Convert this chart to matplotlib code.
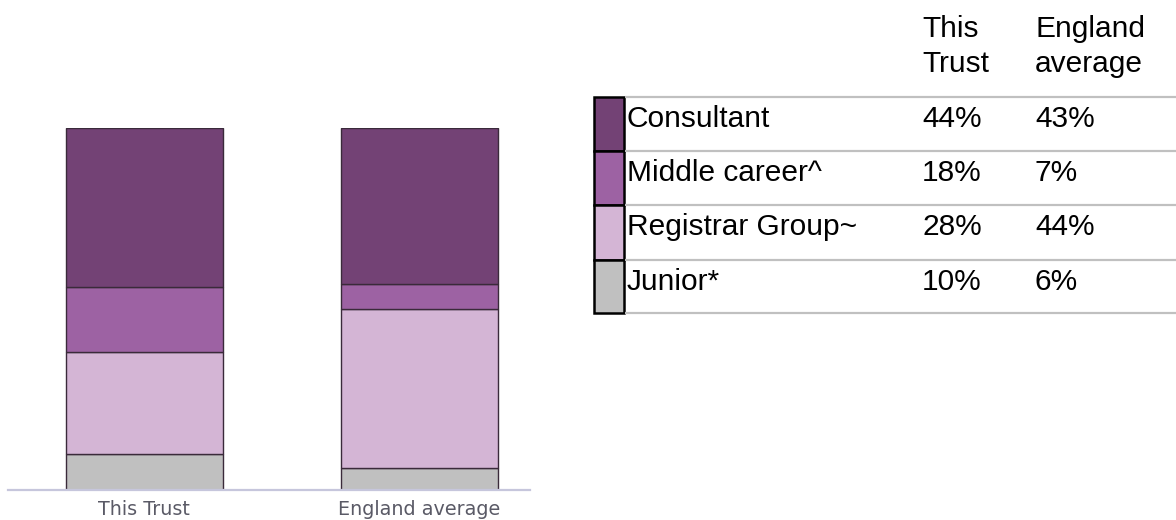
import matplotlib.pyplot as plt
from matplotlib.patches import Rectangle
import numpy as np

groups = ['This Trust', 'England average']
grades = ['Consultant', 'Middle career^', 'Registrar Group~', 'Junior*']
trust_pct = [44, 18, 28, 10]
england_pct = [43, 7, 44, 6]
grade_colors = ['#734275', '#9d62a3', '#d4b5d5', '#c0c0c0']

W, H = 1176, 520
fig = plt.figure(figsize=(W / 100, H / 100), dpi=100)

# stacked bars, bottom segment = Junior
ax = fig.add_axes([8 / W, 30 / H, 522 / W, 362 / H])
vals = np.array([trust_pct, england_pct]).T
x = np.arange(len(groups))
bottom = np.zeros(len(groups))
for i in range(len(grades) - 1, -1, -1):
    ax.bar(x, vals[i], width=0.571, bottom=bottom, color=grade_colors[i],
           edgecolor='#3a2a3a', linewidth=1.0, zorder=2)
    bottom += vals[i]
ax.set_xlim(-0.496, 1.402)
ax.set_ylim(0, 100)
for s in ['top', 'left', 'right']:
    ax.spines[s].set_visible(False)
ax.spines['bottom'].set_color('#c6c6dc')
ax.spines['bottom'].set_linewidth(1.6)
ax.set_yticks([])
ax.set_xticks(x)
ax.set_xticklabels(groups, fontsize=13.8, color='#5a5a66', family='DejaVu Sans')
ax.tick_params(axis='x', length=0, pad=7)

# legend table
tb = fig.add_axes([0, 0, 1, 1])
tb.set_xlim(0, W)
tb.set_ylim(H, 0)
tb.axis('off')
font = dict(family='Liberation Sans', fontsize=21.5, color='black')
row_lines = [97, 151, 205, 260, 313]
for yl in row_lines:
    tb.plot([625, W], [yl, yl], color='#c0c0c0', lw=1.6, solid_capstyle='butt')
col_x = [922, 1035]
tb.text(col_x[0], 37, 'This', va='baseline', **font)
tb.text(col_x[0], 72, 'Trust', va='baseline', **font)
tb.text(col_x[1], 37, 'England', va='baseline', **font)
tb.text(col_x[1], 72, 'average', va='baseline', **font)
for i, g in enumerate(grades):
    top, bot = row_lines[i], row_lines[i + 1]
    tb.add_patch(Rectangle((594, top), 30, bot - top, facecolor=grade_colors[i],
                           edgecolor='black', lw=1.8))
    tb.text(627, top + 30, g, va='baseline', **font)
    tb.text(col_x[0], top + 30, f'{trust_pct[i]}%', va='baseline', **font)
    tb.text(col_x[1], top + 30, f'{england_pct[i]}%', va='baseline', **font)

fig.savefig('out.png', dpi=100)
